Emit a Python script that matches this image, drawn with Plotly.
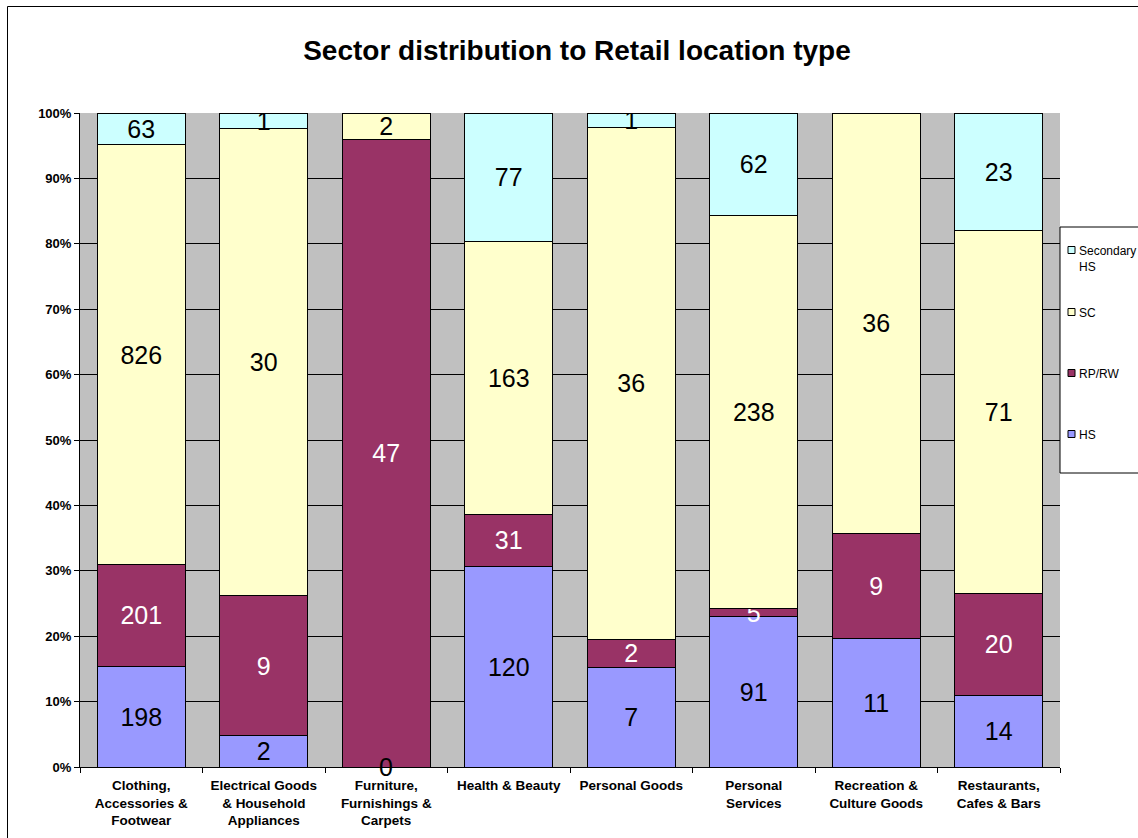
import plotly.graph_objects as go

categories = [
    "Clothing,<br>Accessories &<br>Footwear",
    "Electrical Goods<br>& Household<br>Appliances",
    "Furniture,<br>Furnishings &<br>Carpets",
    "Health & Beauty",
    "Personal Goods",
    "Personal<br>Services",
    "Recreation &<br>Culture Goods",
    "Restaurants,<br>Cafes & Bars",
]
hs = [198, 2, 0, 120, 7, 91, 11, 14]
rp_rw = [201, 9, 47, 31, 2, 5, 9, 20]
sc = [826, 30, 2, 163, 36, 238, 36, 71]
secondary_hs = [63, 1, None, 77, 1, 62, None, 23]

series = [
    ("HS", hs, "#9999FF", "black"),
    ("RP/RW", rp_rw, "#993366", "white"),
    ("SC", sc, "#FFFFCC", "black"),
    ("Secondary<br>HS", secondary_hs, "#CCFFFF", "black"),
]
y_ticks = [0, 10, 20, 30, 40, 50, 60, 70, 80, 90, 100]

FONT = "Liberation Sans, Arial, sans-serif"
W, H = 1138, 838
L, R, T, B = 80, 1060, 113, 767


def px(x):
    return (x - L) / (R - L)


def py(y):
    return (B - y) / (B - T)


fig = go.Figure()
for name, vals, color, tcolor in series:
    texts = [("" if (v is None or v == 0) else str(v)) for v in vals]
    fig.add_trace(go.Bar(
        x=categories, y=vals, name=name, text=texts,
        textposition="inside", insidetextanchor="middle", textangle=0,
        textfont=dict(family=FONT, size=25, color=tcolor),
        marker=dict(color=color, line=dict(color="black", width=1)),
        width=0.72, showlegend=False, constraintext="none",
        hoverinfo="skip",
    ))

# zero-value labels
for name, vals, color, tcolor in series:
    for i, v in enumerate(vals):
        if v == 0:
            fig.add_annotation(x=categories[i], y=0, text="0", showarrow=False,
                               yanchor="middle", font=dict(family=FONT, size=25, color="black"))

shapes = [
    dict(type="rect", xref="paper", yref="paper", x0=px(7.5), x1=px(1145),
         y0=py(845), y1=py(6.5), line=dict(color="black", width=1), layer="below"),
    dict(type="rect", xref="paper", yref="paper", x0=px(1060), x1=px(1145),
         y0=py(473), y1=py(227), line=dict(color="black", width=1),
         fillcolor="white"),
]
annotations = []
legend_y = [434, 373, 312, 250]
for (name, vals, color, tcolor), ly in zip(series, legend_y):
    shapes.append(dict(type="rect", xref="paper", yref="paper",
                       x0=px(1068), x1=px(1075), y0=py(ly + 3.5), y1=py(ly - 3.5),
                       fillcolor=color, line=dict(color="black", width=1)))
    annotations.append(dict(xref="paper", yref="paper", x=px(1077), y=py(ly - 8),
                            xanchor="left", yanchor="top", align="left",
                            text=name, showarrow=False,
                            font=dict(family=FONT, size=12, color="black")))

fig.update_layout(
    width=W, height=H,
    margin=dict(l=L, r=W - R, t=T, b=H - B),
    paper_bgcolor="white", plot_bgcolor="#C0C0C0",
    barmode="stack", barnorm="percent",
    title=dict(text="<b>Sector distribution to Retail location type</b>",
               x=577 / W, xanchor="center", y=1 - 50 / H, yanchor="middle",
               font=dict(family=FONT, size=28, color="black")),
    uniformtext=dict(minsize=25, mode="show"),
    font=dict(family=FONT, color="black"),
    shapes=shapes,
)
for a in annotations:
    fig.add_annotation(**a)

fig.update_xaxes(
    showgrid=False, tickson="boundaries", ticks="outside", ticklen=5,
    tickcolor="black", showline=True, linecolor="black", linewidth=1,
    tickfont=dict(family=FONT, size=13.5, color="black"),
    tickprefix="<b>", ticksuffix="</b>", ticklabelstandoff=6, automargin=False,
)
fig.update_yaxes(
    range=[0, 100], tickvals=y_ticks, ticktext=[f"<b>{v}%</b>" for v in y_ticks],
    showgrid=True, gridcolor="black", gridwidth=1, ticks="outside", ticklen=5,
    tickcolor="black", showline=True, linecolor="black", linewidth=1,
    tickfont=dict(family=FONT, size=13, color="black"), zeroline=False,
    automargin=False,
)

fig.write_html("out.html", config={"displayModeBar": False},
               post_script="document.body.style.margin='0';")
